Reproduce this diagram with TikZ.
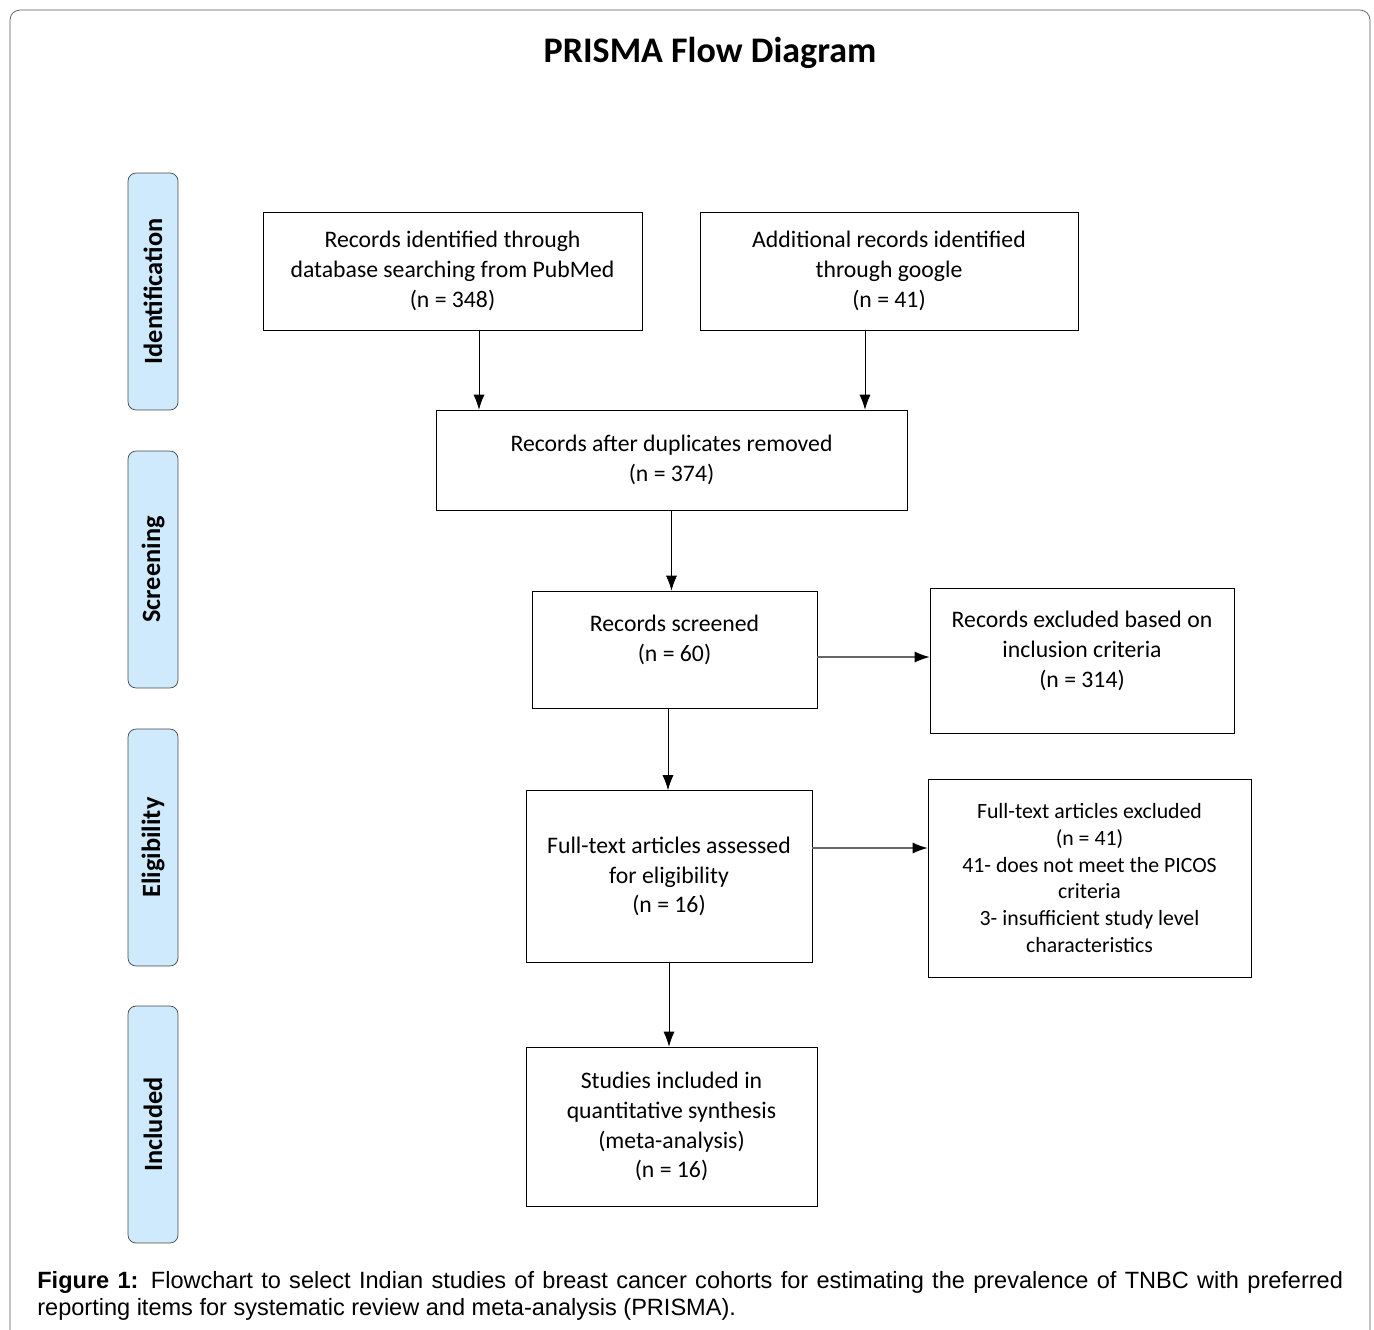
\documentclass[tikz,border=0pt]{standalone}
\usepackage{fontspec}
\setmainfont{Carlito}
\newfontfamily\capfont{Liberation Sans}
\usetikzlibrary{positioning}
\usetikzlibrary{arrows.meta}

\definecolor{stagefill}{RGB}{206,234,252}
\definecolor{stageline}{RGB}{70,70,70}

\begin{document}
\begin{tikzpicture}[
  x=0.02cm, y=-0.02cm,
  box/.style = {draw, thin, align=center, inner sep=2pt,
                font=\fontsize{13.5}{17}\selectfont},
  stage/.style = {draw=stageline, fill=stagefill, thin, rounded corners=0.16cm,
                  rotate=90, minimum width=4.74cm, minimum height=1cm,
                  font=\fontsize{15}{18}\selectfont\bfseries},
  line/.style = {thin},
  side/.style = {draw=black!60, line width=0.7pt},
  >={Latex[length=3mm,width=2.2mm,color=black]}
]

  \useasboundingbox (0,0) rectangle (1374,1330);
  \draw[gray!70!black, rounded corners=0.2cm] (10,10) rectangle (1370,1360);

  \node[font=\fontsize{20.5}{24}\selectfont\bfseries] (title) at (710,53) {PRISMA Flow Diagram};

  % stages
  \node[stage] (ident) at (153,291.5) {Identification};
  \node[stage] (screen) at (153,569.5) {Screening};
  \node[stage] (elig) at (153,847.5) {Eligibility};
  \node[stage] (incl) at (153,1124.5) {Included};

  % boxes
  \node[box, minimum width=7.58cm, minimum height=2.36cm] (pubmed) at (452.5,271)
    {Records identified through\\database searching from PubMed\\(n = 348)};
  \node[box, minimum width=7.56cm, minimum height=2.36cm] (google) at (889,271)
    {Additional records identified\\through google\\(n = 41)};
  \node[box, minimum width=9.42cm, minimum height=2cm] (dupl) at (671.5,460)
    {Records after duplicates removed\\(n = 374)};
  \node[box, minimum width=5.7cm, minimum height=2.34cm, text depth=0.45cm] (screened) at (674.5,649.5)
    {Records screened\\(n = 60)};
  \node[box, minimum width=6.08cm, minimum height=2.9cm, text depth=0.45cm] (excl) at (1082,660.5)
    {Records excluded based on\\inclusion criteria\\(n = 314)};
  \node[box, minimum width=5.72cm, minimum height=3.44cm] (full) at (669,876.5)
    {Full-text articles assessed\\for eligibility\\(n = 16)};
  \node[box, minimum width=6.46cm, minimum height=3.96cm,
        font=\fontsize{12.4}{15.3}\selectfont] (fullexcl) at (1089.5,878)
    {Full-text articles excluded\\(n = 41)\\41- does not meet the PICOS\\criteria\\3- insufficient study level\\characteristics};
  \node[box, minimum width=5.82cm, minimum height=3.18cm] (studies) at (671.5,1126.5)
    {Studies included in\\quantitative synthesis\\(meta-analysis)\\(n = 16)};

  % arrows
  \draw[line,->] ([xshift=0.53cm]pubmed.south) -- ([xshift=0.53cm]pubmed.south |- dupl.north);
  \draw[line,->] ([xshift=-0.48cm]google.south) -- ([xshift=-0.48cm]google.south |- dupl.north);
  \draw[line,->] (dupl.south) -- (dupl.south |- screened.north);
  \draw[side,->] ([yshift=-0.15cm]screened.east) -- ([yshift=-0.15cm]screened.east -| excl.west);
  \draw[line,->] ([xshift=-0.13cm]screened.south) -- ([xshift=-0.13cm]screened.south |- full.north);
  \draw[side,->] ([yshift=0.57cm]full.east) -- ([yshift=0.57cm]full.east -| fullexcl.west);
  \draw[line,->] (full.south) -- (full.south |- studies.north);

  \node[anchor=base west, inner sep=0pt, text width=26.12cm, align=justify,
        font=\capfont\fontsize{13.4}{15.9}\selectfont] (caption) at (37,1288)
    {\textbf{Figure 1:} Flowchart to select Indian studies of breast cancer cohorts for estimating the prevalence of TNBC with preferred\linebreak reporting items for systematic review and meta-analysis (PRISMA).};

\end{tikzpicture}
\end{document}
